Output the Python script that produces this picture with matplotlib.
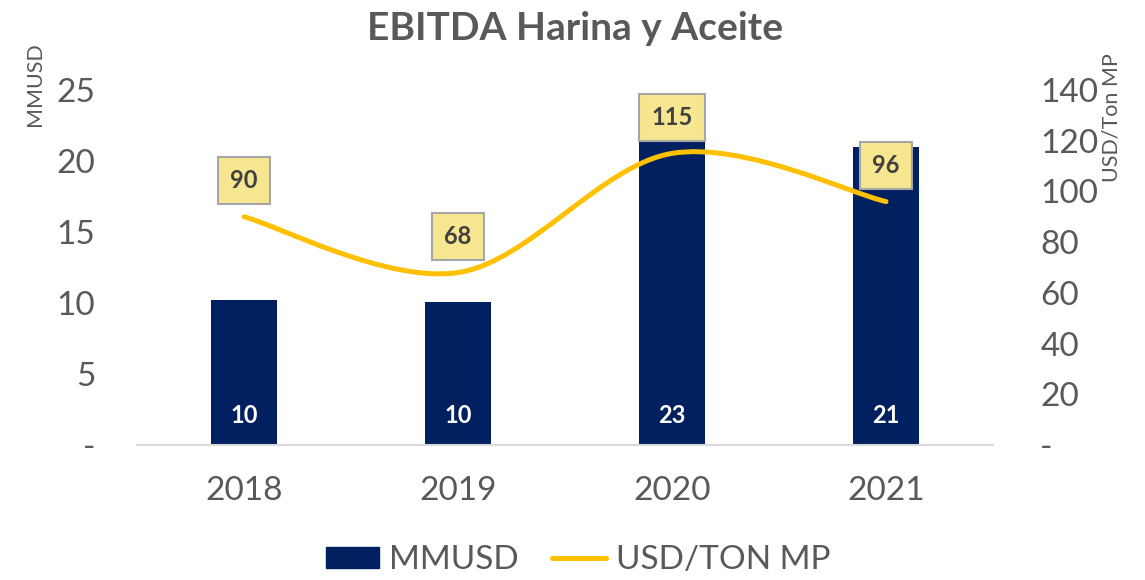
import matplotlib
matplotlib.use("Agg")
import matplotlib.pyplot as plt
from matplotlib.path import Path
from matplotlib.patches import PathPatch, Patch
from matplotlib.lines import Line2D
import numpy as np

plt.rcParams['font.family'] = ['Lato', 'DejaVu Sans']

years = ["2018", "2019", "2020", "2021"]
mmusd = [10.2, 10.1, 23.0, 21.0]
mmusd_labels = ["10", "10", "23", "21"]
usd_ton = [90, 68, 115, 96]
usd_ton_labels = ["90", "68", "115", "96"]
left_ticks = [0, 5, 10, 15, 20, 25]
left_tick_labels = ["-", "5", "10", "15", "20", "25"]
right_ticks = [0, 20, 40, 60, 80, 100, 120, 140]
right_tick_labels = ["-", "20", "40", "60", "80", "100", "120", "140"]

navy = "#002060"
gold = "#FFC000"
grey_text = "#595959"

fig = plt.figure(figsize=(11.45, 5.8), dpi=100)
ax = fig.add_axes([137/1145, 1-445/580, (993-137)/1145, (445-90)/580])
ax2 = ax.twinx()

x = np.arange(len(years))
ax.bar(x, mmusd, width=0.31, color=navy, zorder=2)
ax.set_xlim(-0.5, 3.5)
ax.set_ylim(0, 25)
ax2.set_ylim(0, 140)

for xi, lab in zip(x, mmusd_labels):
    ax.text(xi, 1.25, lab, ha='center', va='bottom', color='white',
            fontsize=17, fontweight='bold', zorder=3)

# smoothed line (Catmull-Rom -> cubic Bezier), built from the data points
pts = np.column_stack([x, usd_ton]).astype(float)
verts = [tuple(pts[0])]
codes = [Path.MOVETO]
n = len(pts)
for i in range(n - 1):
    p0 = pts[i - 1] if i > 0 else pts[i]
    p1 = pts[i]
    p2 = pts[i + 1]
    p3 = pts[i + 2] if i + 2 < n else pts[i + 1]
    c1 = p1 + (p2 - p0) / 6.0
    c2 = p2 - (p3 - p1) / 6.0
    verts += [tuple(c1), tuple(c2), tuple(p2)]
    codes += [Path.CURVE4] * 3
path = Path(verts, codes)
ax2.add_patch(PathPatch(path, facecolor='none', edgecolor=gold, lw=3.6,
                        capstyle='round', zorder=3))

for xi, v, lab in zip(x, usd_ton, usd_ton_labels):
    ax2.annotate(lab, (xi, v), xytext=(0, 26), textcoords='offset points',
                 ha='center', va='center', fontsize=17, fontweight='bold',
                 color='#404040', zorder=5,
                 bbox=dict(boxstyle='square,pad=0.52', fc='#F6E68F', ec='#A6A6A6', lw=1.5))

for a in (ax, ax2):
    for s in a.spines.values():
        s.set_visible(False)
ax.spines['bottom'].set_visible(True)
ax.spines['bottom'].set_color('#D9D9D9')
ax.spines['bottom'].set_linewidth(1.5)

ax.set_xticks(x)
ax.set_xticklabels(years)
ax.set_yticks(left_ticks)
ax.set_yticklabels(left_tick_labels)
ax2.set_yticks(right_ticks)
ax2.set_yticklabels(right_tick_labels)
ax.tick_params(axis='x', length=0, pad=22, labelsize=24, labelcolor=grey_text)
ax.tick_params(axis='y', length=0, pad=30, labelsize=24, labelcolor=grey_text)
ax2.tick_params(axis='y', length=0, pad=34, labelsize=24, labelcolor=grey_text)
for t in ax2.get_yticklabels():
    t.set_ha('left')
for t in ax.get_yticklabels():
    t.set_ha('right')

fig.text(35/1145, 1-84/580, "MMUSD", rotation=90, ha='center', va='center',
         fontsize=15.5, color=grey_text)
fig.text(1112/1145, 1-118/580, "USD/Ton MP", rotation=90, ha='center', va='center',
         fontsize=15.5, color=grey_text)
fig.text(575/1145, 1-28/580, "EBITDA Harina y Aceite", ha='center', va='center',
         fontsize=28, fontweight='bold', color=grey_text)

handles = [Patch(facecolor=navy, edgecolor=navy),
           Line2D([0], [0], color=gold, lw=3.6, solid_capstyle='round')]
fig.legend(handles, ["MMUSD", "USD/TON MP"], loc='center', bbox_to_anchor=(578/1145, 1-560/580),
           ncol=2, frameon=False, fontsize=24, labelcolor=grey_text,
           handlelength=1.6, handleheight=0.6, handletextpad=0.3, columnspacing=1.0)

fig.savefig("out.png", dpi=100, facecolor='white')
